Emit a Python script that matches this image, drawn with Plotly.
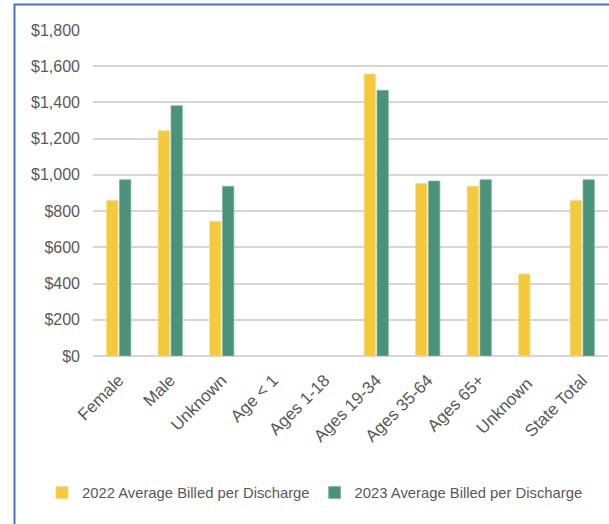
import plotly.graph_objects as go

categories = ["Female", "Male", "Unknown", "Age < 1", "Ages 1-18", "Ages 19-34",
              "Ages 35-64", "Ages 65+", "Unknown ", "State Total"]
avg_2022 = [858, 1244, 744, None, None, 1557, 953, 937, 453, 858]
avg_2023 = [973, 1382, 937, None, None, 1467, 966, 973, None, 973]
tick_vals = [0, 200, 400, 600, 800, 1000, 1200, 1400, 1600, 1800]
tick_text = ["$0", "$200", "$400", "$600", "$800", "$1,000", "$1,200", "$1,400", "$1,600", "$1,800"]

W, H = 609, 524
L, R, T, B = 93, 1, 30, 168
pw, ph = W - L - R, H - T - B

def px_x(x):
    return (x - L) / pw

def px_y(y):
    return (H - B - y) / ph

fig = go.Figure()
fig.add_trace(go.Bar(name="2022 Average Billed per Discharge", x=categories, y=avg_2022,
                     marker=dict(color="#F4CA3C", line=dict(color="#F8DC80", width=0.8))))
fig.add_trace(go.Bar(name="2023 Average Billed per Discharge", x=categories, y=avg_2023,
                     marker=dict(color="#4A927A", line=dict(color="#80B5A3", width=0.8))))

fig.update_layout(
    width=W, height=H,
    margin=dict(l=L, r=R, t=T, b=B, pad=0),
    paper_bgcolor="white", plot_bgcolor="white",
    barmode="group", bargap=0.5, bargroupgap=0.12,
    font=dict(family="Liberation Sans, Arial, sans-serif", color="#595959", size=16),
    showlegend=True,
    legend=dict(orientation="h", x=px_x(42), xanchor="left", y=px_y(493), yanchor="middle",
                font=dict(family="Liberation Sans, Arial, sans-serif", size=14.8, color="#595959"),
                itemwidth=30, tracegroupgap=0, traceorder="normal"),
    xaxis=dict(tickangle=-45, showgrid=False, showline=False, ticks="",
               ticklabelstandoff=10,
               tickfont=dict(size=17, color="#595959")),
    yaxis=dict(range=[0, 1800], tickvals=tick_vals, ticktext=tick_text,
               showgrid=True, gridcolor="#D6D6D6", gridwidth=1.6,
               zeroline=True, zerolinecolor="#D6D6D6", zerolinewidth=1.6,
               showline=False, ticks="", ticklabelstandoff=12,
               tickfont=dict(size=16, color="#595959")),
    shapes=[dict(type="rect", xref="paper", yref="paper",
                 x0=px_x(14.5), x1=px_x(640), y0=px_y(560), y1=px_y(4.5),
                 line=dict(color="#4472C4", width=2), fillcolor="rgba(0,0,0,0)", layer="above")],
)

fig.write_html("out.html", config={"displayModeBar": False},
               post_script="document.body.style.margin='0px';document.body.style.overflow='hidden';")
